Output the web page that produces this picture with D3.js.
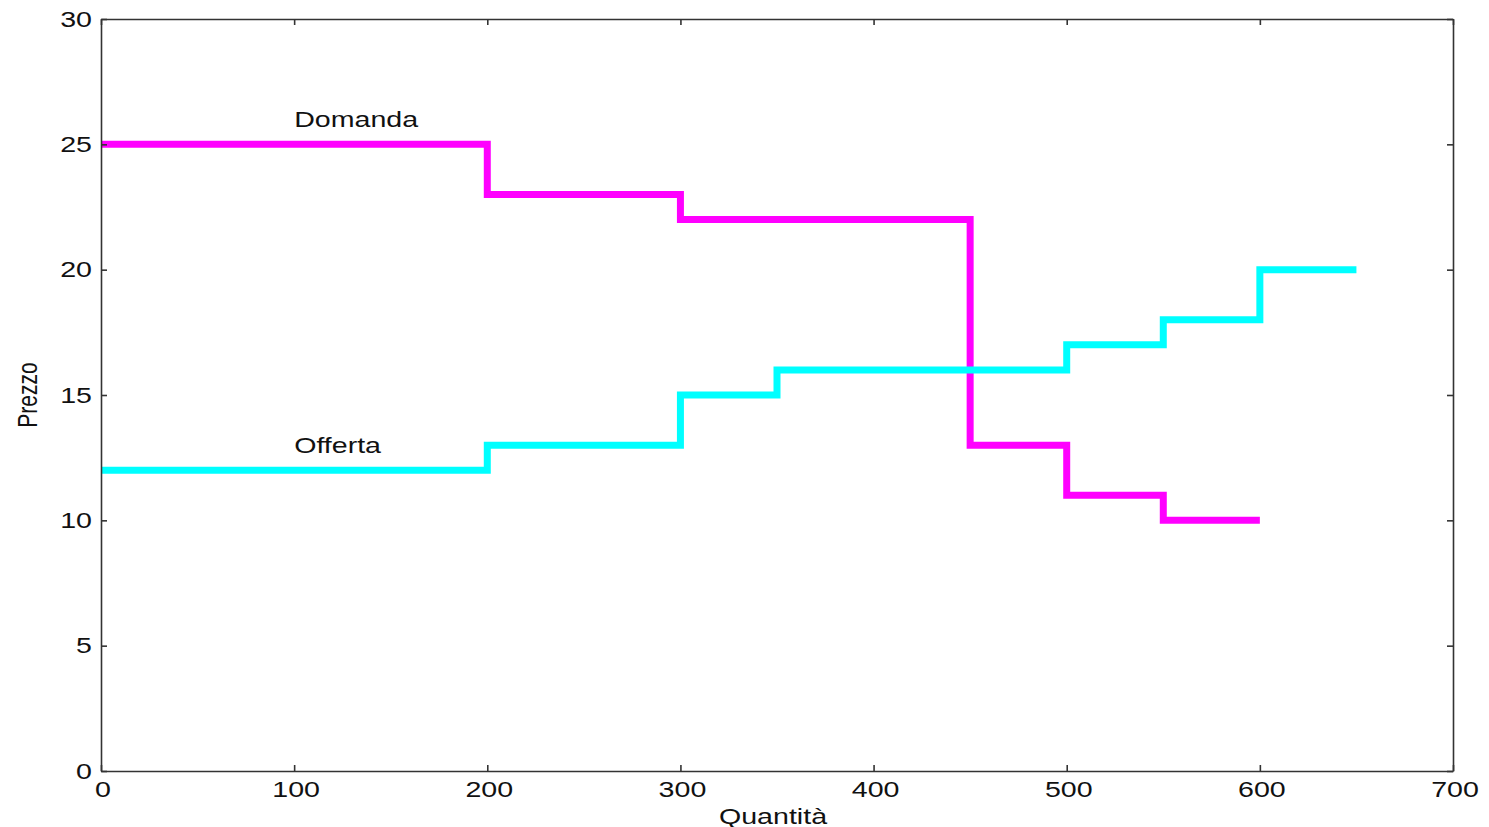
<!DOCTYPE html>
<html>
<head>
<meta charset="utf-8">
<script src="https://cdn.jsdelivr.net/npm/d3@7"></script>
<style>
  body { margin: 0; background: #fff; }
  text { font-family: "Liberation Sans", Arial, sans-serif; fill: #111; }
</style>
</head>
<body>
<svg id="chart" width="1489" height="827"></svg>
<script>
  // demand steps (quantity, price)
  const domandaQ = [0, 200, 200, 300, 300, 450, 450, 500, 500, 550, 550, 600];
  const domandaP = [25, 25, 23, 23, 22, 22, 13, 13, 11, 11, 10, 10];
  // supply steps
  const offertaQ = [0, 200, 200, 300, 300, 350, 350, 500, 500, 550, 550, 600, 600, 650];
  const offertaP = [12, 12, 13, 13, 15, 15, 16, 16, 17, 17, 18, 18, 20, 20];

  const xTicks = [0, 100, 200, 300, 400, 500, 600, 700];
  const yTicks = [0, 5, 10, 15, 20, 25, 30];
  const labels = [
    {text: 'Domanda', q: 100, p: 26},
    {text: 'Offerta', q: 100, p: 13}
  ];

  const margin = {left: 101, right: 36, top: 19, bottom: 56};
  const width = 1489, height = 827;
  const stretch = 1.3; // text in the picture is drawn wider than tall

  const x = d3.scaleLinear().domain([0, 700]).range([margin.left, width - margin.right]);
  const y = d3.scaleLinear().domain([0, 30]).range([height - margin.bottom, margin.top]);

  const svg = d3.select('#chart');

  function addText(g, str, tx, ty, anchor) {
    return g.append('text')
      .attr('transform', `translate(${tx},${ty}) scale(${stretch},1)`)
      .attr('text-anchor', anchor)
      .attr('dominant-baseline', 'central')
      .style('font-size', '22px')
      .text(str);
  }

  // lines
  const line = d3.line().x(d => x(d[0])).y(d => y(d[1]));
  svg.append('path')
    .datum(domandaQ.map((q, i) => [q, domandaP[i]]))
    .attr('d', line)
    .attr('fill', 'none')
    .attr('stroke', '#ff00ff')
    .attr('stroke-width', 7);
  svg.append('path')
    .datum(offertaQ.map((q, i) => [q, offertaP[i]]))
    .attr('d', line)
    .attr('fill', 'none')
    .attr('stroke', '#00ffff')
    .attr('stroke-width', 7);

  // frame + inward ticks on all four sides
  const tick = 6;
  const axisColor = '#333';
  const axBottom = svg.append('g').attr('transform', `translate(0,${y(0)})`)
    .call(d3.axisBottom(x).tickValues(xTicks).tickSizeInner(-tick).tickSizeOuter(0).tickFormat(''));
  const axTop = svg.append('g').attr('transform', `translate(0,${y(30)})`)
    .call(d3.axisTop(x).tickValues(xTicks).tickSizeInner(-tick).tickSizeOuter(0).tickFormat(''));
  const axLeft = svg.append('g').attr('transform', `translate(${x(0)},0)`)
    .call(d3.axisLeft(y).tickValues(yTicks).tickSizeInner(-tick).tickSizeOuter(0).tickFormat(''));
  const axRight = svg.append('g').attr('transform', `translate(${x(700)},0)`)
    .call(d3.axisRight(y).tickValues(yTicks).tickSizeInner(-tick).tickSizeOuter(0).tickFormat(''));
  [axBottom, axTop, axLeft, axRight].forEach(g => {
    g.selectAll('path, line').attr('stroke', axisColor).attr('stroke-width', 1.6);
  });

  // tick labels
  const tl = svg.append('g');
  xTicks.forEach(v => addText(tl, v, x(v) + 2, y(0) + 18, 'middle'));
  yTicks.forEach(v => addText(tl, v, x(0) - 9, y(v), 'end'));

  // axis titles
  addText(svg, 'Quantità', (x(0) + x(700)) / 2 - 4, height - 11, 'middle');
  svg.append('text')
    .attr('transform', `translate(27,${(y(0) + y(30)) / 2}) rotate(-90) scale(1,${stretch})`)
    .attr('text-anchor', 'middle')
    .attr('dominant-baseline', 'central')
    .style('font-size', '21px')
    .text('Prezzo');

  // curve labels
  labels.forEach(l => addText(svg, l.text, x(l.q), y(l.p), 'start'));
</script>
</body>
</html>
